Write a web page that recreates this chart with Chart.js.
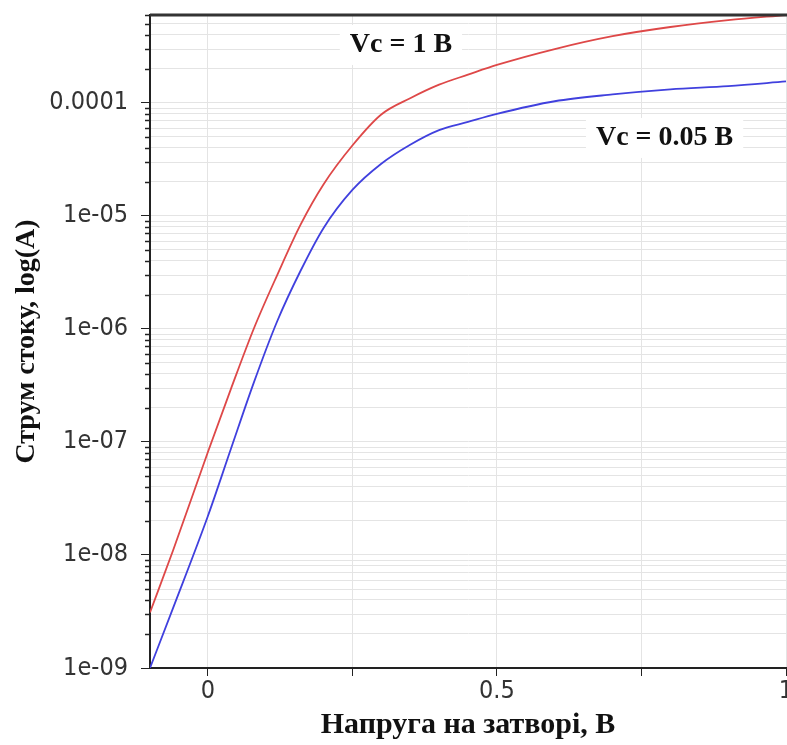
<!DOCTYPE html>
<html>
<head>
<meta charset="utf-8">
<script src="https://cdn.jsdelivr.net/npm/chart.js@4/dist/chart.umd.min.js"></script>
<style>
html, body { margin: 0; padding: 0; background: #fff; overflow: hidden; }
#wrap { width: 800px; height: 745px; }
</style>
</head>
<body>
<div id="wrap"><canvas id="idChart"></canvas></div>
<script>
// gate voltage, V
var gateVoltage = [-0.1, -0.06, 0, 0.04, 0.08, 0.12, 0.16, 0.2, 0.25, 0.3, 0.35, 0.4, 0.45, 0.5, 0.6, 0.7, 0.8, 0.9, 1.0];
// drain current, A, for Vc = 1 V and Vc = 0.05 V
var currentVc1 = [3.1e-9, 1.1e-8, 8.1e-8, 2.95e-7, 1.02e-6, 3.0e-6, 8.3e-6, 1.9e-5, 4.2e-5, 7.9e-5, 1.1e-4, 1.45e-4, 1.78e-4, 2.17e-4, 3.0e-4, 3.9e-4, 4.7e-4, 5.4e-4, 6.0e-4];
var currentVc005 = [1.0e-9, 3.4e-9, 2.2e-8, 8.7e-8, 3.4e-7, 1.17e-6, 3.24e-6, 7.8e-6, 1.7e-5, 2.9e-5, 4.27e-5, 5.75e-5, 6.8e-5, 8.0e-5, 1.035e-4, 1.19e-4, 1.32e-4, 1.41e-4, 1.55e-4];

var xTicks = [0, 0.25, 0.5, 0.75, 1];
var xTickLabels = ['0', '', '0.5', '', '1'];
var yDecades = [1e-9, 1e-8, 1e-7, 1e-6, 1e-5, 1e-4];
var yTickLabels = ['1e-09', '1e-08', '1e-07', '1e-06', '1e-05', '0.0001'];

// curve labels, placed in data units
var noteTexts = ['Vc = 1 В', 'Vc = 0.05 В'];
var noteX = [0.334, 0.79];
var noteY = [3.26e-4, 4.9e-5];

var yMin = 1e-9, yMax = 6.0e-4;

function decadeIndex(v) {
    for (var i = 0; i < yDecades.length; i++) {
        if (Math.abs(Math.log10(v) - Math.log10(yDecades[i])) < 1e-6) return i;
    }
    return -1;
}

// short ticks for 2..9, top frame line and the labels
var extras = {
    id: 'extras',
    beforeDatasetsDraw: function (chart) {
        var ctx = chart.ctx, xs = chart.scales.x, ys = chart.scales.y;
        ctx.save();
        ctx.font = 'bold 28px "Liberation Serif", serif';
        ctx.textAlign = 'center';
        ctx.textBaseline = 'middle';
        for (var i = 0; i < noteTexts.length; i++) {
            var px = xs.getPixelForValue(noteX[i]);
            var py = ys.getPixelForValue(noteY[i]);
            var w = ctx.measureText(noteTexts[i]).width;
            ctx.fillStyle = '#fff';
            ctx.fillRect(px - w / 2 - 10, py - 20, w + 20, 40);
            ctx.fillStyle = '#111';
            ctx.fillText(noteTexts[i], px, py);
        }
        ctx.restore();
    },
    afterDraw: function (chart) {
        var ctx = chart.ctx, ys = chart.scales.y, area = chart.chartArea;
        ctx.save();
        ctx.strokeStyle = '#222';
        ctx.lineWidth = 1.5;
        ys.ticks.forEach(function (t) {
            if (t.major) return;
            var py = Math.round(ys.getPixelForValue(t.value)) + 0.5;
            ctx.beginPath();
            ctx.moveTo(area.left - 5, py);
            ctx.lineTo(area.left, py);
            ctx.stroke();
        });
        ctx.strokeStyle = '#333';
        ctx.lineWidth = 3;
        ctx.beginPath();
        ctx.moveTo(area.left, area.top);
        ctx.lineTo(area.right + 20, area.top);
        ctx.stroke();
        ctx.restore();
    }
};

const ctx = document.getElementById('idChart');
const idChart = new Chart(ctx, {
    type: 'line',
    data: {
        datasets: [{
            label: 'Vc = 1 В',
            data: gateVoltage.map(function (v, i) { return { x: v, y: currentVc1[i] }; }),
            borderColor: 'rgb(222, 72, 72)',
            borderWidth: 1.8,
            pointRadius: 0,
            cubicInterpolationMode: 'monotone',
            fill: false
        }, {
            label: 'Vc = 0.05 В',
            data: gateVoltage.map(function (v, i) { return { x: v, y: currentVc005[i] }; }),
            borderColor: 'rgb(64, 64, 222)',
            borderWidth: 1.8,
            pointRadius: 0,
            cubicInterpolationMode: 'monotone',
            fill: false
        }]
    },
    options: {
        responsive: true,
        maintainAspectRatio: false,
        animation: false,
        layout: { padding: { top: 15, right: 14 } },
        plugins: { legend: { display: false }, tooltip: { enabled: false } },
        scales: {
            x: {
                type: 'linear',
                min: -0.1,
                max: 1.0,
                afterBuildTicks: function (scale) {
                    scale.ticks = xTicks.map(function (v) { return { value: v }; });
                },
                afterFit: function (scale) { scale.height = 77; },
                ticks: {
                    padding: 0,
                    color: '#333',
                    font: { family: '"DejaVu Sans Condensed", "DejaVu Sans", sans-serif', size: 25 },
                    callback: function (v) {
                        var i = xTicks.indexOf(v);
                        return i >= 0 ? xTickLabels[i] : '';
                    }
                },
                grid: { color: '#e4e4e4', tickColor: '#222', tickLength: 8 },
                border: { color: '#222', width: 2 },
                title: {
                    display: true,
                    text: 'Напруга на затворі, В',
                    color: '#111',
                    padding: { top: 0, bottom: 2 },
                    font: { family: '"Liberation Serif", serif', size: 30, weight: 'bold' }
                }
            },
            y: {
                type: 'logarithmic',
                min: yMin,
                max: yMax,
                afterBuildTicks: function (scale) {
                    var list = [];
                    for (var k = -9; k <= -4; k++) {
                        for (var m = 1; m <= 9; m++) {
                            var v = m * Math.pow(10, k);
                            if (v <= yMax * 1.0001) list.push({ value: v, major: m === 1 });
                        }
                    }
                    scale.ticks = list;
                },
                afterFit: function (scale) {
                    scale.width = 150;
                    scale.paddingTop = 0;
                    scale.paddingBottom = 0;
                },
                ticks: {
                    padding: 13,
                    color: '#333',
                    autoSkip: false,
                    font: { family: '"DejaVu Sans Condensed", "DejaVu Sans", sans-serif', size: 25 },
                    callback: function (v) {
                        var i = decadeIndex(v);
                        return i >= 0 ? yTickLabels[i] : '';
                    }
                },
                grid: {
                    color: '#e4e4e4',
                    tickLength: 9,
                    tickColor: function (c) { return c.tick && c.tick.major ? '#222' : 'rgba(0,0,0,0)'; }
                },
                border: { color: '#222', width: 2 },
                title: {
                    display: true,
                    text: 'Струм стоку, log(A)',
                    color: '#111',
                    padding: { top: 10, bottom: 0 },
                    font: { family: '"Liberation Serif", serif', size: 28, weight: 'bold' }
                }
            }
        }
    },
    plugins: [extras]
});
</script>
</body>
</html>
